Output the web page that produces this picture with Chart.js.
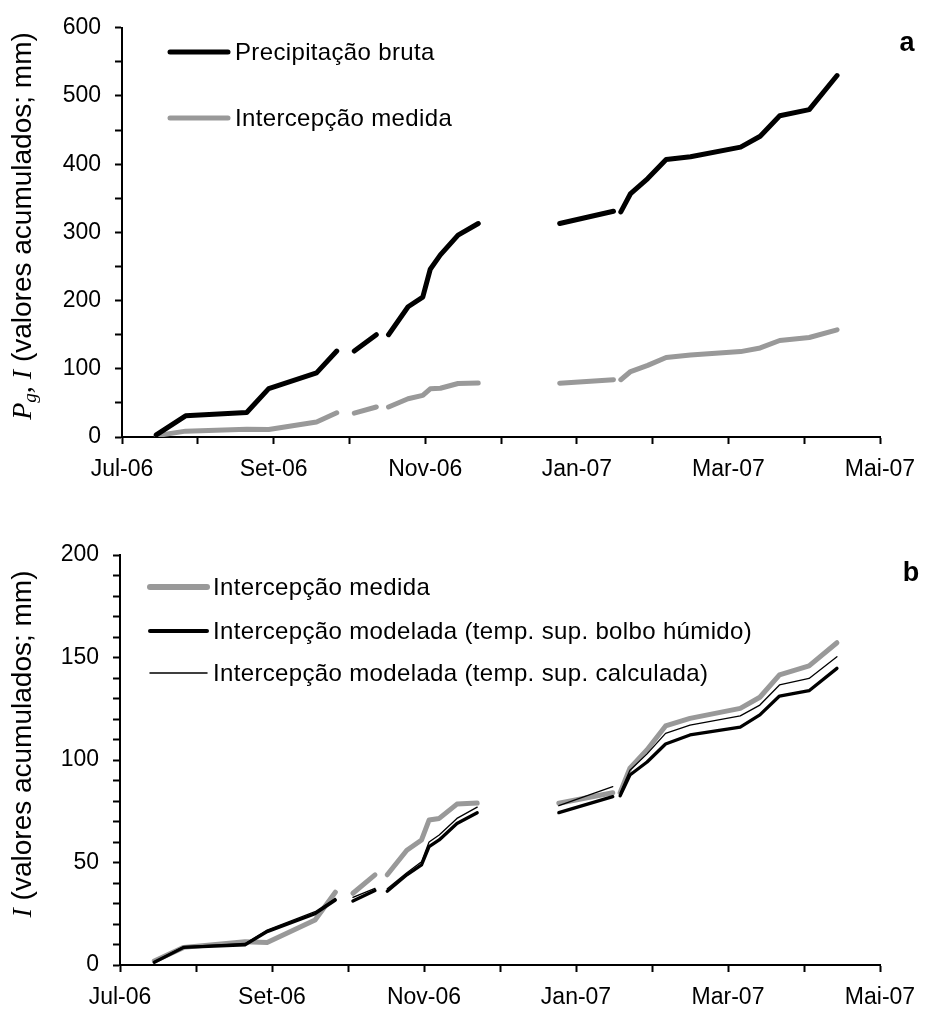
<!DOCTYPE html>
<html lang="pt">
<head>
<meta charset="utf-8">
<script src="https://cdn.jsdelivr.net/npm/chart.js@4.4.1/dist/chart.umd.min.js"></script>
<style>
  html, body { margin: 0; padding: 0; background: #fff; }
  #wrap { position: relative; width: 936px; height: 1011px; }
  canvas { position: absolute; left: 0; }
  #grafA { top: 0; }
  #grafB { top: 490px; }
</style>
</head>
<body>
<div id="wrap">
  <canvas id="grafA" width="936" height="490"></canvas>
  <canvas id="grafB" width="936" height="521"></canvas>
</div>
<script>
// datas das medições ('' = interrupção entre campanhas)
const datas = [
  '2006-07-15', '2006-07-27', '2006-08-21', '2006-08-30', '2006-09-18', '2006-09-26', '',
  '2006-10-03', '2006-10-12', '',
  '2006-10-17', '2006-10-25', '2006-10-31', '2006-11-03', '2006-11-07', '2006-11-14', '2006-11-22', '',
  '2006-12-25', '2007-01-16', '',
  '2007-01-19', '2007-01-23', '2007-01-30', '2007-02-06', '2007-02-15', '2007-03-06',
  '2007-03-14', '2007-03-22', '2007-04-03', '2007-04-14'
];

// valores acumulados (mm)
const precBruta = [
  3, 31, 36, 71, 94, 126, null,
  126, 150, null,
  150, 191, 205, 246, 267, 296, 313, null,
  313, 331, null,
  330, 357, 379, 407, 411, 425, 441, 471, 480, 530
];
const intMedida = [
  2, 8.6, 11.4, 11, 22, 35.5, null,
  35, 44, null,
  44, 56, 61, 70.7, 71.5, 78.5, 79, null,
  78.9, 84, null,
  84, 96, 105, 116.6, 120.3, 125.2, 130.6, 141.5, 145.9, 157.2
];
const intBolbo = [
  1.3, 8.6, 9.8, 16.3, 25, 31.7, null,
  31.2, 36.3, null,
  36, 44, 48.8, 57.7, 61, 69, 74.3, null,
  74.3, 82.1, null,
  82.5, 92.7, 99, 107.8, 112.2, 116, 122, 131.2, 133.8, 144.7
];
const intCalc = [
  1.5, 9, 10.5, 17, 26, 32.5, null,
  33, 37.4, null,
  37.2, 45, 50.4, 60, 63.4, 71.5, 77, null,
  77.7, 87, null,
  84, 95, 103, 113, 117, 121.5, 126.8, 136.6, 139.8, 150.4
];

const meses = ['Jul-06', 'Ago-06', 'Set-06', 'Out-06', 'Nov-06', 'Dez-06',
               'Jan-07', 'Fev-07', 'Mar-07', 'Abr-07', 'Mai-07'];

const CINZA = '#999999';
const SANS = '"Liberation Sans", Arial, sans-serif';
const SERIF = '"Liberation Serif", "Times New Roman", serif';

// posição no eixo em meses desde Jul-06
function mesFrac(s) {
  const [a, m, d] = s.split('-').map(Number);
  const diasMes = new Date(a, m, 0).getDate();
  return (a - 2006) * 12 + (m - 7) + (d - 1) / diasMes;
}

function pontos(serie) {
  let ultimoX = 0;
  return datas.map((d, i) => {
    if (d) ultimoX = mesFrac(d);
    return { x: ultimoX, y: d ? serie[i] : null };
  });
}

function linha(label, serie, cor, largura, ordem) {
  return {
    label: label,
    data: pontos(serie),
    borderColor: cor,
    backgroundColor: cor,
    borderWidth: largura,
    borderCapStyle: 'round',
    borderJoinStyle: 'round',
    pointRadius: 0,
    spanGaps: false,
    tension: 0,
    order: ordem
  };
}

// título do eixo y com símbolos em itálico
function tituloY(ctx, partes, cx, cy) {
  ctx.save();
  let total = 0;
  partes.forEach(p => { ctx.font = p.f; p.w = ctx.measureText(p.t).width; total += p.w; });
  ctx.translate(cx, cy);
  ctx.rotate(-Math.PI / 2);
  ctx.fillStyle = '#000';
  ctx.textBaseline = 'alphabetic';
  let x = -total / 2;
  partes.forEach(p => {
    ctx.font = p.f;
    ctx.fillText(p.t, x, p.dy || 0);
    x += p.w;
  });
  ctx.restore();
}

function legenda(ctx, chart, x0, x1, xt, ys) {
  ctx.save();
  ctx.font = '24px ' + SANS;
  ctx.letterSpacing = '0.35px';
  ctx.textBaseline = 'middle';
  ctx.fillStyle = '#000';
  chart.data.datasets.forEach((ds, i) => {
    ctx.beginPath();
    ctx.strokeStyle = ds.borderColor;
    ctx.lineWidth = ds.legendaLargura || ds.borderWidth;
    ctx.lineCap = 'round';
    ctx.moveTo(x0, ys[i]);
    ctx.lineTo(x1, ys[i]);
    ctx.stroke();
    ctx.fillText(ds.label, xt, ys[i] + 1);
  });
  ctx.restore();
}

function letra(ctx, t, x, y) {
  ctx.save();
  ctx.font = 'bold 27px ' + SANS;
  ctx.textAlign = 'center';
  ctx.textBaseline = 'alphabetic';
  ctx.fillStyle = '#000';
  ctx.fillText(t, x, y);
  ctx.restore();
}

function opcoes(yMax, yPasso, yRotulo, topo, altX, largY) {
  const eixo = {
    grid: { drawOnChartArea: false, drawTicks: true, tickLength: 7, tickWidth: 2, color: '#000' },
    border: { color: '#000', width: 2 }
  };
  return {
    responsive: false,
    animation: false,
    layout: { padding: { top: topo, right: 56, left: 0, bottom: 0 } },
    plugins: { legend: { display: false }, tooltip: { enabled: false } },
    scales: {
      x: Object.assign({}, eixo, {
        type: 'linear',
        min: 0,
        max: 10,
        ticks: {
          stepSize: 1,
          autoSkip: false,
          maxRotation: 0,
          padding: 12,
          color: '#000',
          font: { family: SANS, size: 23 },
          callback: v => {
            const m = Math.round(v);
            return m % 2 === 0 ? meses[m] : '';
          }
        },
        afterFit: s => { s.height = altX; }
      }),
      y: Object.assign({}, eixo, {
        min: 0,
        max: yMax,
        ticks: {
          stepSize: yPasso,
          autoSkip: false,
          padding: 14,
          color: '#000',
          font: { family: SANS, size: 23 },
          callback: v => {
            const n = Math.round(v);
            return n % yRotulo === 0 ? String(n) : '';
          }
        },
        afterFit: s => { s.width = largY; }
      })
    }
  };
}

// painel a: precipitação bruta e intercepção medida
new Chart(document.getElementById('grafA'), {
  type: 'line',
  data: {
    datasets: [
      linha('Precipitação bruta', precBruta, '#000', 5, 1),
      linha('Intercepção medida', intMedida, CINZA, 5, 2)
    ]
  },
  options: opcoes(600, 50, 100, 26, 53, 122),
  plugins: [{
    id: 'extrasA',
    afterDraw(chart) {
      const ctx = chart.ctx;
      legenda(ctx, chart, 170, 228, 235, [52, 118]);
      letra(ctx, 'a', 907, 51);
      tituloY(ctx, [
        { t: 'P', f: 'italic 28px ' + SERIF },
        { t: 'g', f: 'italic 19px ' + SERIF, dy: 5 },
        { t: ', ', f: 'italic 28px ' + SERIF },
        { t: 'I', f: 'italic 28px ' + SERIF },
        { t: ' (valores acumulados; mm)', f: '28px ' + SANS }
      ], 31, 226);
    }
  }]
});

// painel b: intercepção medida e modelada
const dsB = [
  linha('Intercepção medida', intMedida, CINZA, 5, 3),
  linha('Intercepção modelada (temp. sup. bolbo húmido)', intBolbo, '#000', 3.3, 2),
  linha('Intercepção modelada (temp. sup. calculada)', intCalc, '#000', 1.3, 1)
];
dsB[0].legendaLargura = 6;
dsB[1].legendaLargura = 4;
dsB[2].legendaLargura = 1.5;

new Chart(document.getElementById('grafB'), {
  type: 'line',
  data: { datasets: dsB },
  options: opcoes(200, 10, 50, 65, 46, 120),
  plugins: [{
    id: 'extrasB',
    afterDraw(chart) {
      const ctx = chart.ctx;
      legenda(ctx, chart, 150, 207, 213, [97, 141, 183]);
      letra(ctx, 'b', 911, 91);
      tituloY(ctx, [
        { t: 'I', f: 'italic 28px ' + SERIF },
        { t: ' (valores acumulados; mm)', f: '28px ' + SANS }
      ], 31, 254);
    }
  }]
});
</script>
</body>
</html>
